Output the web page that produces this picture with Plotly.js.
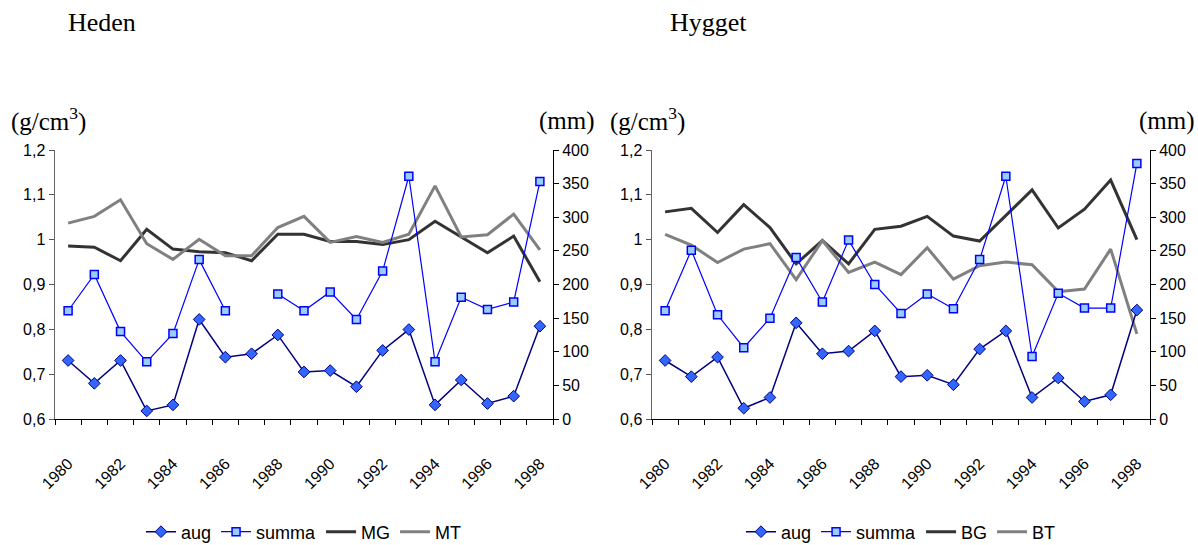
<!DOCTYPE html>
<html>
<head>
<meta charset="utf-8">
<script src="https://cdn.plot.ly/plotly-3.0.1.min.js"></script>
<style>
html,body{margin:0;padding:0;background:#fff;overflow:hidden;}
#chart{width:1198px;height:556px;}
</style>
</head>
<body>
<div id="chart"></div>
<script>
// ---- data ----
const years = ['1980','1981','1982','1983','1984','1985','1986','1987','1988','1989',
               '1990','1991','1992','1993','1994','1995','1996','1997','1998'];
const yearLabels = ['1980',' ','1982',' ','1984',' ','1986',' ','1988',' ',
                    '1990',' ','1992',' ','1994',' ','1996',' ','1998'];
const densTickVals = [0.6, 0.7, 0.8, 0.9, 1.0, 1.1, 1.2];
const densTickText = ['0,6', '0,7', '0,8', '0,9', '1', '1,1', '1,2'];

// Heden (mm)
const hedenAug   = [87, 53, 87, 12, 21, 148, 92, 97, 125, 70, 72, 48, 102, 133, 21, 58, 23, 34, 138];
const hedenSumma = [161, 215, 130, 85, 127, 237, 161, null, 186, 161, 189, 148, 220, 361, 85, 181, 163, 174, 353];
// Heden (g/cm3)
const hedenMG = [0.986, 0.983, 0.953, 1.023, 0.979, 0.973, 0.971, 0.953, 1.012, 1.012, 0.996, 0.996, 0.989, 1.000, 1.041, 1.006, 0.971, 1.008, 0.906];
const hedenMT = [1.037, 1.052, 1.089, 0.991, 0.956, 1.001, 0.964, 0.964, 1.027, 1.052, 0.994, 1.007, 0.994, 1.012, 1.120, 1.006, 1.011, 1.057, 0.977];

// Hygget (mm)
const hyggetAug   = [87, 63, 92, 16, 32, 143, 97, 101, 131, 63, 65, 51, 104, 131, 32, 61, 26, 36, 162];
const hyggetSumma = [161, 251, 155, 106, 150, 240, 174, 266, 200, 157, 186, 164, 237, 361, 93, 187, 165, 165, 380];
// Hygget (g/cm3)
const hyggetBG = [1.062, 1.070, 1.016, 1.078, 1.027, 0.946, 0.998, 0.946, 1.023, 1.030, 1.052, 1.008, 0.997, 1.055, 1.111, 1.026, 1.068, 1.133, 1.000];
const hyggetBT = [1.012, 0.988, 0.949, 0.979, 0.991, 0.911, 0.998, 0.927, 0.950, 0.922, 0.982, 0.912, 0.942, 0.950, 0.944, 0.884, 0.890, 0.979, 0.790];

// ---- styles ----
// layout is a little taller than the 545px viewport so the legend can sit low without pushing margins
const W = 1198, H = 556;
const tickFont = {family: '"Liberation Sans", Arial, sans-serif', size: 16, color: '#000'};
const legFont  = {family: '"Liberation Sans", Arial, sans-serif', size: 18, color: '#000'};
const serif    = '"Liberation Serif", "Times New Roman", serif';

function augTrace(y, xa, ya, leg) {
  return {x: years, y: y, xaxis: xa, yaxis: ya, name: 'aug', legend: leg, type: 'scatter', mode: 'lines+markers',
    line: {color: '#000080', width: 1.5},
    marker: {symbol: 'diamond', size: 9, color: '#3366FF', line: {color: '#000080', width: 1}}};
}
function summaTrace(y, xa, ya, leg) {
  return {x: years, y: y, xaxis: xa, yaxis: ya, name: 'summa', legend: leg, type: 'scatter', mode: 'lines+markers',
    connectgaps: false,
    line: {color: '#0000FF', width: 1.2},
    marker: {symbol: 'square', size: 8, color: '#99CCFF', line: {color: '#0000FF', width: 1.5}}};
}
function lineTrace(y, xa, ya, leg, name, color) {
  return {x: years, y: y, xaxis: xa, yaxis: ya, name: name, legend: leg, type: 'scatter', mode: 'lines',
    line: {color: color, width: 3}};
}

const data = [
  augTrace(hedenAug, 'x', 'y2', 'legend'),
  summaTrace(hedenSumma, 'x', 'y2', 'legend'),
  lineTrace(hedenMG, 'x', 'y', 'legend', 'MG', '#333333'),
  lineTrace(hedenMT, 'x', 'y', 'legend', 'MT', '#808080'),
  augTrace(hyggetAug, 'x2', 'y4', 'legend2'),
  summaTrace(hyggetSumma, 'x2', 'y4', 'legend2'),
  lineTrace(hyggetBG, 'x2', 'y3', 'legend2', 'BG', '#333333'),
  lineTrace(hyggetBT, 'x2', 'y3', 'legend2', 'BT', '#808080')
];

const yDom = [1 - 419 / H, 1 - 150 / H];
function xAxis(dom, anchor) {
  return {domain: dom, anchor: anchor, type: 'category', range: [-0.5, 18.5], autorange: false,
    tickmode: 'array', tickvals: years, ticktext: yearLabels,
    tickson: 'boundaries', ticks: 'outside', ticklen: 5, tickcolor: '#000', tickangle: -45,
    showline: true, linecolor: '#000', linewidth: 1, showgrid: false, zeroline: false,
    tickfont: tickFont, ticklabelstandoff: 28, automargin: false, fixedrange: true};
}
function yLeft(anchor) {
  return {domain: yDom, anchor: anchor, range: [0.6, 1.2], tickmode: 'array', tickvals: densTickVals, ticktext: densTickText,
    ticks: 'outside', ticklen: 5, tickcolor: '#555', showline: true, linecolor: '#666', linewidth: 1.5,
    showgrid: false, zeroline: false, tickfont: tickFont, automargin: false, fixedrange: true};
}
function yRight(anchor, over) {
  return {domain: yDom, anchor: anchor, overlaying: over, side: 'right', range: [0, 400], dtick: 50, tick0: 0,
    ticks: 'outside', ticklen: 5, tickcolor: '#000', showline: true, linecolor: '#000', linewidth: 1,
    showgrid: false, zeroline: false, tickfont: tickFont, automargin: false, fixedrange: true};
}

function ann(text, xpx, ypx, xanchor, size) {
  return {text: text, xref: 'paper', yref: 'paper', x: xpx / W, y: 1 - ypx / H, xanchor: xanchor, yanchor: 'middle',
    showarrow: false, font: {family: serif, size: size, color: '#000'}};
}

const layout = {
  width: W, height: H,
  margin: {l: 0, r: 0, t: 0, b: 0},
  paper_bgcolor: '#fff', plot_bgcolor: 'rgba(0,0,0,0)',
  showlegend: true,
  hovermode: false,
  xaxis: xAxis([55 / W, 553 / W], 'y'),
  yaxis: yLeft('x'),
  yaxis2: yRight('x', 'y'),
  xaxis2: xAxis([652 / W, 1150 / W], 'y3'),
  yaxis3: yLeft('x2'),
  yaxis4: yRight('x2', 'y3'),
  legend: {orientation: 'h', x: 304 / W, y: 1 - 532 / H, xanchor: 'center', yanchor: 'middle',
    font: legFont, bgcolor: 'rgba(0,0,0,0)', itemwidth: 30, tracegroupgap: 0},
  legend2: {orientation: 'h', x: 901 / W, y: 1 - 532 / H, xanchor: 'center', yanchor: 'middle',
    font: legFont, bgcolor: 'rgba(0,0,0,0)', itemwidth: 30, tracegroupgap: 0},
  annotations: [
    ann('Heden', 66, 23, 'left', 26),
    ann('Hygget', 668, 23, 'left', 26),
    ann('(g/cm<sup>3</sup>)', 9, 119, 'left', 25),
    ann('(mm)', 597, 121, 'right', 25),
    ann('(g/cm<sup>3</sup>)', 608, 119, 'left', 25),
    ann('(mm)', 1197, 121, 'right', 25)
  ]
};

Plotly.newPlot('chart', data, layout, {displayModeBar: false, staticPlot: true});
</script>
</body>
</html>
